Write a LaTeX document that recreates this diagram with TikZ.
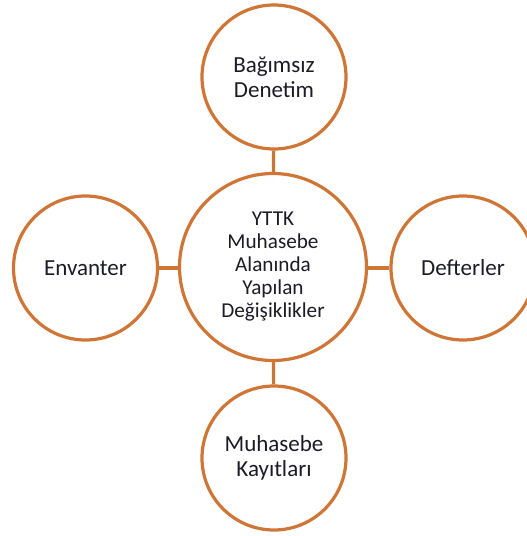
\documentclass[tikz,border=0pt]{standalone}
\usepackage{fontspec}
\setmainfont{Carlito}
\definecolor{ring}{RGB}{207,118,55}
\definecolor{ink}{RGB}{28,28,38}
\begin{document}
\begin{tikzpicture}[x=1pt,y=-1pt,
  ringnode/.style={circle,draw=ring,line width=3.2pt,fill=white,inner sep=0pt,
    minimum size=144pt,align=center,text=ink,
    font=\fontsize{23}{25}\selectfont},
  hubnode/.style={ringnode,minimum size=187pt,font=\fontsize{21.2}{23}\selectfont},
  link/.style={draw=ring,line width=3.2pt}]
\clip (0,0) rectangle (527,536);
\useasboundingbox (0,0) rectangle (527,536);
\node[hubnode] (hub) at (273,267) {YTTK\\Muhasebe\\Alanında\\Yapılan\\Değişiklikler};
\node[ringnode] (top) at (274,77) {Bağımsız\\Denetim};
\node[ringnode] (left) at (85.5,268) {Envanter};
\node[ringnode] (right) at (463,268) {Defterler};
\node[ringnode] (bottom) at (274,458) {Muhasebe\\Kayıtları};
\draw[link] (top) -- (hub);
\draw[link] (hub) -- (bottom);
\draw[link] (left) -- (hub.west |- left.east);
\draw[link] (hub.east |- right.west) -- (right);
\end{tikzpicture}
\end{document}
